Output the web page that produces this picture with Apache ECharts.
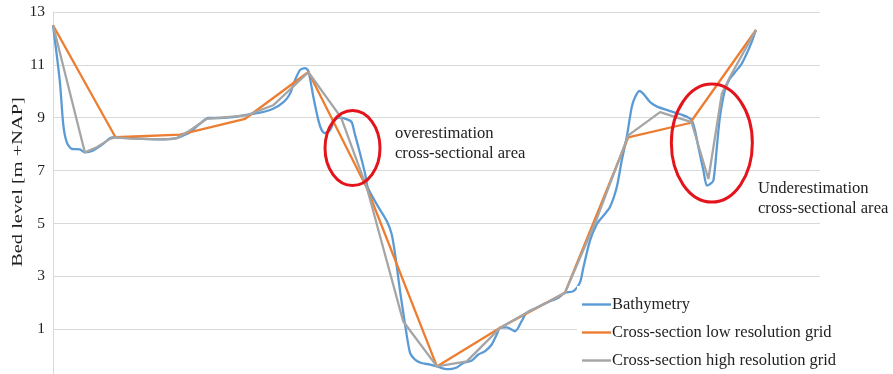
<!DOCTYPE html>
<html>
<head>
<meta charset="utf-8">
<script src="https://cdn.jsdelivr.net/npm/echarts@6/dist/echarts.min.js"></script>
<style>
  html, body { margin: 0; padding: 0; background: #ffffff; }
  #chart { width: 893px; height: 374px; }
</style>
</head>
<body>
<div id="chart"></div>
<script>
// Distance along the cross-section and bed level [m +NAP]
const bathyDist = [0,1.8,2.7,3.6,4.9,7.0,8.3,10.5,13.1,14.9,
  16.3,23.5,28.8,32.3,34.0,35.7,38.3,40.5,43.5,47.0,
  50.5,54.0,57.4,60.1,61.8,63.1,64.4,65.7,66.6,67.9,
  69.2,70.1,70.9,72.2,73.5,74.8,77.0,77.9,78.7,80.1,
  81.4,82.1,84.4,87.0,88.3,89.2,90.5,91.8,93.1,94.4,
  96.1,98.3,100.1,101.8,103.5,105.3,107.0,109.2,110.9,112.6,
  114.4,115.7,116.6,118.3,120.5,122.2,123.5,126.1,128.7,131.8,
  133.5,135.7,137.4,138.3,140.0,141.8,143.5,145.2,147.0,148.3,
  149.6,150.9,151.8,152.9,153.9,155.7,157.4,160.9,164.4,166.5,
  167.4,168.3,169.6,170.5,171.3,172.2,173.1,173.9,175.2,176.5,
  178.3,179.6,180.9,182.2,183.3];
const bathyLevel = [12.5,10.35,8.71,8.07,7.82,7.80,7.69,7.76,8.01,8.23,
  8.26,8.20,8.18,8.23,8.33,8.45,8.77,8.99,8.99,9.02,
  9.11,9.19,9.34,9.59,9.91,10.42,10.80,10.88,10.76,9.78,
  8.90,8.52,8.42,8.52,8.90,9.00,8.92,8.83,8.39,7.63,
  6.87,6.35,5.73,5.10,4.60,3.84,2.44,1.18,0.10,-0.15,
  -0.28,-0.34,-0.41,-0.49,-0.51,-0.45,-0.28,-0.19,0.04,0.16,
  0.42,0.80,1.05,1.07,0.92,1.30,1.62,1.81,2.00,2.19,
  2.38,2.44,2.76,3.33,4.34,4.97,5.29,5.61,6.37,7.38,
  8.26,9.40,9.78,10.01,9.91,9.59,9.43,9.25,9.09,8.92,
  8.52,7.88,7.00,6.43,6.49,6.62,7.88,9.02,10.04,10.48,
  10.80,11.05,11.43,11.87,12.32];

const lowDist  = [0,16.3,33.1,50.1,66.6,81.9,100.1,116.6,133.5,150.0,166.1,183.3];
const lowLevel = [12.5,8.26,8.36,8.96,10.73,6.32,-0.41,1.05,2.38,8.26,8.80,12.32];

const highDist  = [0,8.3,11.4,14.9,16.3,20.1,29.2,32.3,35.7,40.1,
  50.5,57.4,66.6,75.1,81.9,91.3,100.1,107.9,116.6,123.5,
  128.7,133.5,141.8,150.0,158.3,166.5,170.9,174.4,176.5,183.3];
const highLevel = [12.5,7.69,7.88,8.20,8.26,8.21,8.18,8.23,8.52,8.96,
  9.09,9.47,10.72,9.01,6.32,1.30,-0.41,-0.22,1.05,1.62,
  2.00,2.38,5.18,8.33,9.21,8.83,6.68,9.91,10.54,12.32];

const seriesNames = ['Bathymetry', 'Cross-section low resolution grid', 'Cross-section high resolution grid'];
const yTitle = 'Bed level [m +NAP]';
const notes = [
  { text: 'overestimation\ncross-sectional area', cx: 78.1, cy: 7.85 },
  { text: 'Underestimation\ncross-sectional area', cx: 171.8, cy: 8.04 }
];

const pairs = (xs, ys) => xs.map((x, i) => [x, ys[i]]);
const serif = '"Liberation Serif", "Times New Roman", serif';

const chart = echarts.init(document.getElementById('chart'), null, { renderer: 'canvas' });

chart.setOption({
  animation: false,
  backgroundColor: '#ffffff',
  grid: { left: 53, right: 73, top: 12, bottom: -8, outerBoundsMode: 'none' },
  xAxis: {
    type: 'value', min: 0, max: 200,
    axisLine: { show: false }, axisTick: { show: false },
    axisLabel: { show: false }, splitLine: { show: false }
  },
  yAxis: {
    type: 'value', min: -1, max: 13, interval: 2,
    axisLine: { show: true, lineStyle: { color: '#d9d9d9', width: 1 } },
    axisTick: { show: false },
    axisLabel: { color: '#1f1f1f', fontFamily: serif, fontSize: 15.5, margin: 8 },
    splitLine: { lineStyle: { color: '#d9d9d9', width: 1 } }
  },
  legend: {
    orient: 'vertical', left: 577, top: 286,
    padding: [10, 6, 4, 5],
    backgroundColor: '#ffffff',
    icon: 'rect',
    itemWidth: 29, itemHeight: 2.4, itemGap: 11,
    textStyle: { fontFamily: serif, fontSize: 16.5, color: '#1f1f1f', lineHeight: 16, padding: [0, 0, 0, -4] },
    data: seriesNames
  },
  series: [
    { name: seriesNames[0], type: 'line', data: pairs(bathyDist, bathyLevel), symbol: 'none', smooth: 0.25,
      lineStyle: { color: '#5b9bd5', width: 2.3 }, itemStyle: { color: '#5b9bd5' }, z: 2 },
    { name: seriesNames[1], type: 'line', data: pairs(lowDist, lowLevel), symbol: 'none',
      lineStyle: { color: '#ed7d31', width: 2.3 }, itemStyle: { color: '#ed7d31' }, z: 3 },
    { name: seriesNames[2], type: 'line', data: pairs(highDist, highLevel), symbol: 'none',
      lineStyle: { color: '#a5a5a5', width: 2.3 }, itemStyle: { color: '#a5a5a5' }, z: 4 }
  ]
});

// Red ellipses around the over/underestimated parts, placed in data space
const c1 = chart.convertToPixel({ gridIndex: 0 }, [notes[0].cx, notes[0].cy]);
const c2 = chart.convertToPixel({ gridIndex: 0 }, [notes[1].cx, notes[1].cy]);

chart.setOption({
  graphic: [
    { type: 'ellipse', shape: { cx: c1[0], cy: c1[1], rx: 27.5, ry: 37.5 },
      style: { fill: 'none', stroke: '#e3141c', lineWidth: 3 }, z: 100 },
    { type: 'ellipse', shape: { cx: c2[0], cy: c2[1], rx: 40.5, ry: 59 },
      style: { fill: 'none', stroke: '#e3141c', lineWidth: 3 }, z: 100 },
    { type: 'text', x: 395, y: 124, z: 100,
      style: { text: notes[0].text, font: '16.6px ' + serif, fill: '#1f1f1f', lineHeight: 20 } },
    { type: 'text', x: 758, y: 179, z: 100,
      style: { text: notes[1].text, font: '16.6px ' + serif, fill: '#1f1f1f', lineHeight: 20 } },
    { type: 'text', x: 18, y: 182, rotation: Math.PI / 2, scaleX: 1.2, scaleY: 0.85, z: 100,
      style: { text: yTitle, font: '17px ' + serif, fill: '#1f1f1f', align: 'center', verticalAlign: 'middle' } }
  ]
});
</script>
</body>
</html>
